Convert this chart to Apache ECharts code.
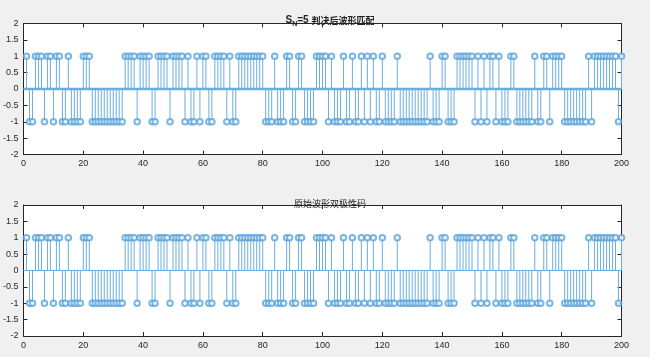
<!DOCTYPE html>
<html><head><meta charset="utf-8">
<script src="https://cdn.jsdelivr.net/npm/echarts@6/dist/echarts.min.js"></script>
<style>html,body{margin:0;padding:0;background:#f0f0f0}#c{width:650px;height:357px}</style>
</head><body><div id="c"></div><script>
// x ticks and y ticks
const xTickValues = [0,20,40,60,80,100,120,140,160,180,200];
const yTickValues = [-2,-1.5,-1,-0.5,0,0.5,1,1.5,2];
// decided waveform (top) — bipolar symbols for n = 1..200
const decided = [
 1,-1,-1,1,1,1,-1,1,1,-1,1,1,-1,-1,1,-1,-1,-1,-1,1,
 1,1,-1,-1,-1,-1,-1,-1,-1,-1,-1,-1,-1,1,1,1,1,-1,1,1,
 1,1,-1,-1,1,1,1,1,-1,1,1,1,1,-1,1,-1,-1,1,-1,1,
 1,-1,-1,1,1,1,1,-1,1,-1,-1,1,1,1,1,1,1,1,1,1,
 -1,-1,-1,1,-1,-1,-1,1,1,-1,-1,1,1,-1,-1,-1,-1,1,1,1,
 1,-1,1,-1,-1,-1,1,-1,-1,1,-1,-1,1,-1,1,-1,1,-1,-1,1,
 -1,-1,-1,-1,1,-1,-1,-1,-1,-1,-1,-1,-1,-1,-1,1,-1,-1,-1,1,
 1,-1,-1,-1,1,1,1,1,1,1,-1,1,-1,1,-1,1,1,-1,1,-1,
 -1,-1,1,1,-1,-1,-1,-1,-1,-1,1,-1,-1,1,1,-1,1,1,1,1,
 -1,-1,-1,-1,-1,-1,-1,-1,1,-1,1,1,1,1,1,1,1,1,-1,1
];
// original bipolar code (bottom)
const original = [
 1,-1,-1,1,1,1,-1,1,1,-1,1,1,-1,-1,1,-1,-1,-1,-1,1,
 1,1,-1,-1,-1,-1,-1,-1,-1,-1,-1,-1,-1,1,1,1,1,-1,1,1,
 1,1,-1,-1,1,1,1,1,-1,1,1,1,1,-1,1,-1,-1,1,-1,1,
 1,-1,-1,1,1,1,1,-1,1,-1,-1,1,1,1,1,1,1,1,1,1,
 -1,-1,-1,1,-1,-1,-1,1,1,-1,-1,1,1,-1,-1,-1,-1,1,1,1,
 1,-1,1,-1,-1,-1,1,-1,-1,1,-1,-1,1,-1,1,-1,1,-1,-1,1,
 -1,-1,-1,-1,1,-1,-1,-1,-1,-1,-1,-1,-1,-1,-1,1,-1,-1,-1,1,
 1,-1,-1,-1,1,1,1,1,1,1,-1,1,-1,1,-1,1,1,-1,1,-1,
 -1,-1,1,1,-1,-1,-1,-1,-1,-1,1,-1,-1,1,1,-1,1,1,1,1,
 -1,-1,-1,-1,-1,-1,-1,-1,1,-1,1,1,1,1,1,1,1,1,-1,1
];
const xRange = [0,200];
const yRange = [-2,2];

const STEM = '#6aaee0';
const MARK = '#5aa4da';
const AX = '#262626';
const FONT = 'Liberation Sans, Arial, sans-serif';

const toPairs = arr => arr.map((v,i)=>[i+1,v]);

function stemRender(params, api){
  const x = api.value(0), y = api.value(1);
  const p0 = api.coord([x,0]), p1 = api.coord([x,y]);
  return {type:'line', shape:{x1:p0[0],y1:p0[1],x2:p1[0],y2:p1[1]},
    style:{stroke:STEM, lineWidth:1}};
}

function xAx(gi, pos){
  return {type:'value', gridIndex:gi, position:pos, min:xRange[0], max:xRange[1], interval:20,
    axisLine:{show:true, onZero:false, lineStyle:{color:AX,width:1}},
    axisTick:{show:true, inside:true, length:4, lineStyle:{color:AX}},
    axisLabel:{show: pos==='bottom', color:AX, fontSize:9, fontFamily:FONT, margin:5},
    splitLine:{show:false}};
}
function yAx(gi, pos){
  return {type:'value', gridIndex:gi, position:pos, min:yRange[0], max:yRange[1], interval:0.5,
    axisLine:{show:true, onZero:false, lineStyle:{color:AX,width:1}},
    axisTick:{show:true, inside:true, length:4, lineStyle:{color:AX}},
    axisLabel:{show: pos==='left', color:AX, fontSize:9, fontFamily:FONT, margin:5},
    splitLine:{show:false}};
}

const chart = echarts.init(document.getElementById('c'), null, {renderer:'canvas'});
const grids = [
  {left:18.5, right:28.5, top:23.5, bottom:202.5, show:true, backgroundColor:'#ffffff', borderWidth:0},
  {left:18.5, right:28.5, top:205, bottom:21, show:true, backgroundColor:'#ffffff', borderWidth:0}
];
function seriesFor(gi, arr, baseW){
  const d = toPairs(arr);
  return [
    {type:'line', xAxisIndex:gi*2, yAxisIndex:gi*2, data:[[xRange[0],0],[xRange[1],0]], showSymbol:false,
      lineStyle:{color:STEM, width:baseW}, silent:true, z:2},
    {type:'custom', xAxisIndex:gi*2, yAxisIndex:gi*2, data:d, renderItem:stemRender, z:3},
    {type:'scatter', xAxisIndex:gi*2, yAxisIndex:gi*2, data:d, symbol:'emptyCircle', symbolSize:5.5,
      itemStyle:{color:MARK, borderWidth:0.8}, z:4}
  ];
}
chart.setOption({
  animation:false,
  backgroundColor:'#f0f0f0',
  title:[
    {text:'{s|S}{sub|N}{s|=5 }{c|判决后波形匹配}', left:325, top:8, textAlign:'center',
      textStyle:{rich:{
        s:{fontFamily:FONT, fontSize:10, color:'#222', fontWeight:'bold'},
        sub:{fontFamily:FONT, fontSize:7, color:'#222', fontWeight:'bold', verticalAlign:'bottom', padding:[8,0,0,0]},
        c:{fontFamily:'Noto Sans CJK SC', fontSize:9, color:'#222'}}}},
    {text:'原始波形双极性码', left:325, top:194, textAlign:'center',
      textStyle:{fontFamily:'Noto Sans CJK SC', fontSize:9, color:'#222', fontWeight:'normal'}}
  ],
  grid:grids,
  xAxis:[xAx(0,'bottom'), xAx(0,'top'), xAx(1,'bottom'), xAx(1,'top')],
  yAxis:[yAx(0,'left'), yAx(0,'right'), yAx(1,'left'), yAx(1,'right')],
  series:[...seriesFor(0, decided, 2.5), ...seriesFor(1, original, 1)]
});
</script></body></html>
